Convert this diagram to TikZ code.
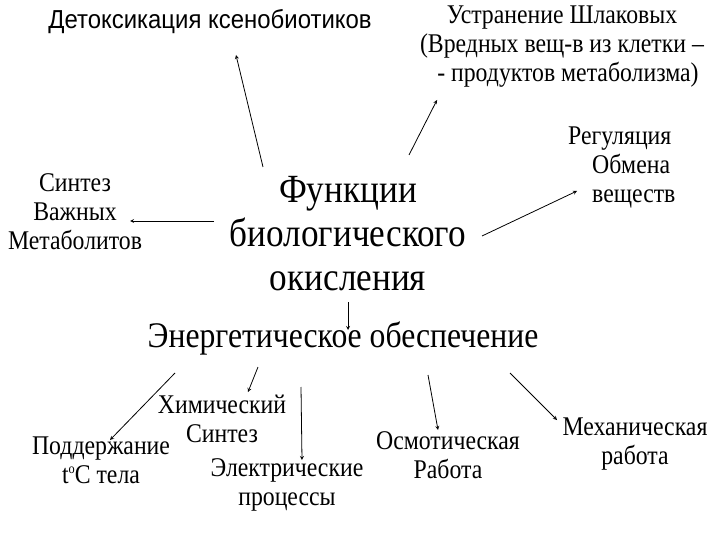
\documentclass[tikz,border=0pt]{standalone}
\usepackage{fontspec}
\setmainfont[FakeStretch=0.88]{Liberation Serif}
\newfontfamily\sansf[FakeStretch=0.92]{Liberation Sans}
\usepackage{tikz}

\begin{document}
\begin{tikzpicture}[x=1pt,y=-1pt,
  lbl/.style={align=center,inner sep=0pt,font=\fontsize{27}{29}\selectfont},
  arr/.style={-stealth,line width=0.8pt}]
\useasboundingbox (0,0) rectangle (720,540);
% centre
\node[lbl,font=\fontsize{40}{44}\selectfont] (fun) at (348,234) {Функции\\биологического\\окисления};
\node[lbl,font=\fontsize{36}{40}\selectfont] (energy) at (343,338) {Энергетическое обеспечение};
% upper ring
\node[lbl,font=\sansf\fontsize{26}{28}\selectfont] (detox) at (210,22) {Детоксикация ксенобиотиков};
\node[lbl] (slag) at (562,47) {Устранение Шлаковых\\(Вредных вещ-в из клетки –\\\ \ - продуктов метаболизма)};
\node[lbl,align=left,anchor=west] (reg) at (568,167) {Регуляция\\\hspace*{24pt}Обмена\\\hspace*{24pt}веществ};
\node[lbl] (synth) at (75,212) {Синтез\\Важных\\Метаболитов};
% lower row
\node[lbl] (chem) at (222,419) {Химический\\Синтез};
\node[lbl] (temp) at (101,460) {Поддержание\\t\raisebox{10pt}{\fontsize{14}{14}\selectfont o}C тела};
\node[lbl] (elec) at (287,485) {Электрические\\процессы};
\node[lbl] (osm) at (448,455) {Осмотическая\\Работа};
\node[lbl] (mech) at (635,444) {Механическая\\работа};
% arrow ends
\coordinate (a1) at (263,167); \coordinate (b1) at (236,55);
\coordinate (a2) at (409,155); \coordinate (b2) at (437,100);
\coordinate (a3) at (482,236); \coordinate (b3) at (577,191);
\coordinate (a4) at (214,221); \coordinate (b4) at (130,221);
\coordinate (a5) at (348,302); \coordinate (b5) at (348,330);
\coordinate (a6) at (175,373); \coordinate (b6) at (110,440);
\coordinate (a7) at (258,367); \coordinate (b7) at (248,392);
\coordinate (a8) at (301,387); \coordinate (b8) at (302,460);
\coordinate (a9) at (428,375); \coordinate (b9) at (438,430);
\coordinate (a10) at (510,373); \coordinate (b10) at (557,420);
\foreach \from/\to in {a1/b1,a2/b2,a3/b3,a4/b4,a5/b5,a6/b6,a7/b7,a8/b8,a9/b9,a10/b10}
  \draw[arr] (\from) -- (\to);
\end{tikzpicture}
\end{document}
